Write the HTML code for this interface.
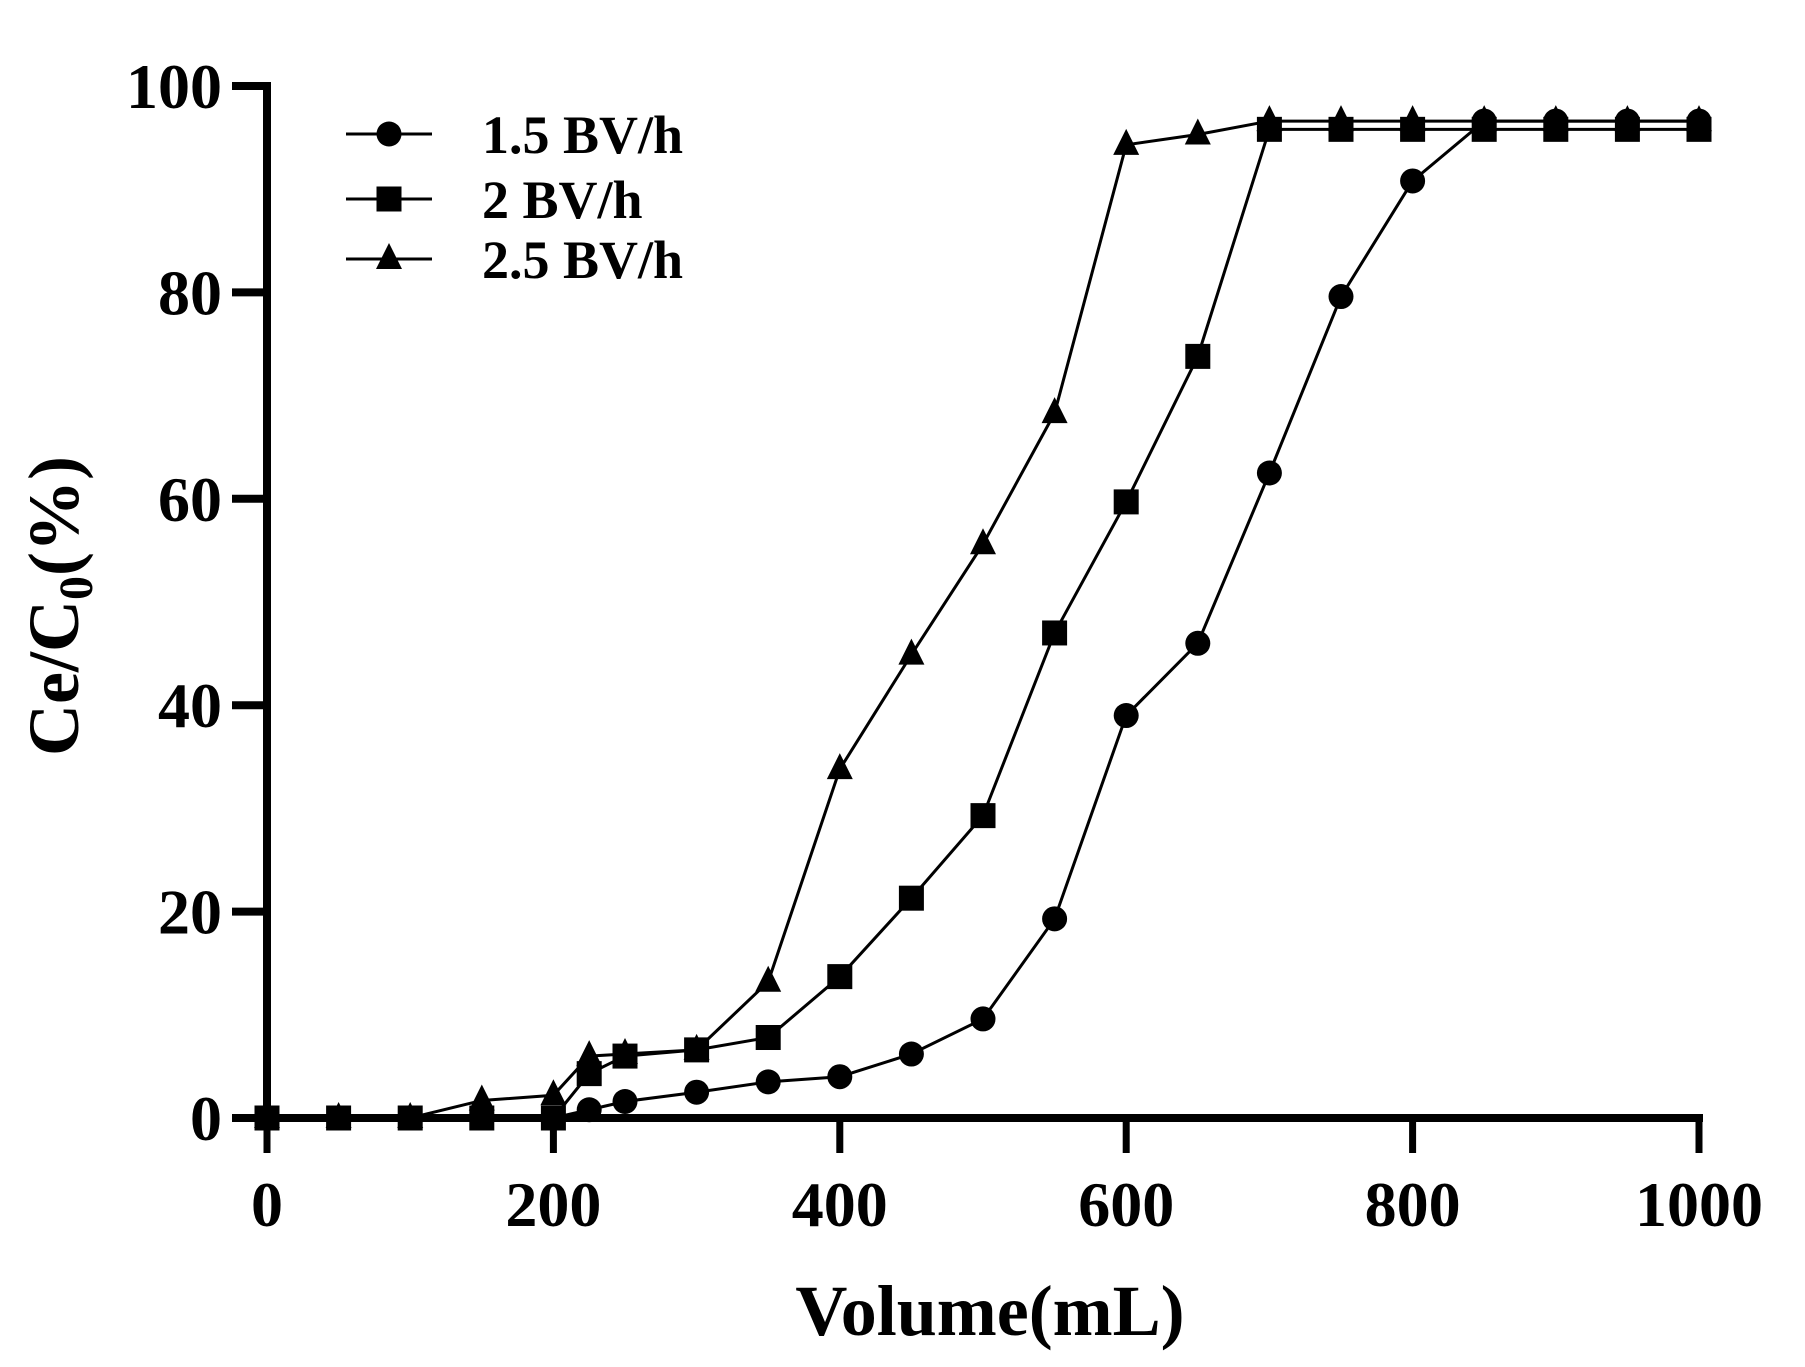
<!DOCTYPE html>
<html><head><meta charset="utf-8"><style>
body{margin:0;background:#fff}
svg{display:block}
text{font-family:"Liberation Serif",serif;font-weight:bold;fill:#000}
</style></head><body>
<svg id="chart" width="1805" height="1367" viewBox="0 0 1805 1367" xmlns="http://www.w3.org/2000/svg">
<g id="axes"></g>
<g id="series"></g>
<g id="legend"></g>
<text x="990" y="1335" font-size="72" text-anchor="middle">Volume(mL)</text>
<text transform="translate(78,606) rotate(-90)" font-size="72" text-anchor="middle">Ce/C<tspan font-size="48" dy="14">0</tspan><tspan dy="-14">(%)</tspan></text>
</svg>
<script>
const xValues = [0,50,100,150,200,225,250,300,350,400,450,500,550,600,650,700,750,800,850,900,950,1000];
const series15 = [0,0,0,0,0,0.8,1.6,2.5,3.5,4,6.2,9.6,19.3,39,46,62.5,79.6,90.8,96.6,96.6,96.6,96.6];
const series2 = [0,0,0,0,0,4.3,6,6.6,7.8,13.7,21.3,29.3,47,59.7,73.8,95.8,95.8,95.8,95.8,95.8,95.8,95.8];
const series25 = [0,0,0,1.7,2.2,6,6.2,6.6,13.2,33.8,44.9,55.6,68.3,94.3,95.3,96.6,96.6,96.6,96.6,96.6,96.6,96.6];
const xTicks = [0,200,400,600,800,1000];
const yTicks = [0,20,40,60,80,100];
const seriesNames = ["1.5 BV/h","2 BV/h","2.5 BV/h"];

const NS="http://www.w3.org/2000/svg";
const X0=267,X1=1699,Y0=1118,Y1=86;
function sx(v){return X0+(v-0)/(1000-0)*(X1-X0);}
function sy(v){return Y0-(v-0)/(100-0)*(Y0-Y1);}
function mk(tag,attrs,parent){const e=document.createElementNS(NS,tag);for(const k in attrs)e.setAttribute(k,attrs[k]);parent.appendChild(e);return e;}
const axes=document.getElementById('axes');
let yl=mk('line',{x1:X0,y1:Y0,x2:X0,y2:Y1-4,stroke:'#000','stroke-width':8},axes);


let xl=mk('line',{x1:X0-35,y1:Y0,x2:X1+4,y2:Y0,stroke:'#000','stroke-width':8},axes);


yTicks.forEach(t=>{
  const l=mk('line',{x1:X0-35,y1:sy(t),x2:X0,y2:sy(t),stroke:'#000','stroke-width':8},axes);
  
  
  const tx=mk('text',{x:X0-45,y:sy(t)+22,'font-size':64,'text-anchor':'end'},axes);
  tx.textContent=t;
  
  
});
xTicks.forEach(t=>{
  const l=mk('line',{x1:sx(t),y1:Y0,x2:sx(t),y2:Y0+35,stroke:'#000','stroke-width':7},axes);
  
  
  const tx=mk('text',{x:sx(t),y:1226,'font-size':64,'text-anchor':'middle'},axes);
  tx.textContent=t;
  
  
});
function marker(type,cx,cy,parent){
  let e;
  if(type==='circle')e=mk('circle',{cx:cx,cy:cy,r:12.5,fill:'#000'},parent);
  else if(type==='square')e=mk('rect',{x:cx-12.5,y:cy-12.5,width:25,height:25,fill:'#000'},parent);
  else e=mk('polygon',{points:`${cx},${cy-16} ${cx-13},${cy+10} ${cx+13},${cy+10}`,fill:'#000'},parent);
  return e;
}
const sg=document.getElementById('series');
const allSeries=[series15,series2,series25];
const types=['circle','square','triangle'];
const sNames=['series-1-5-bvh','series-2-bvh','series-2-5-bvh'];
allSeries.forEach((vals,i)=>{
  const g=mk('g',{},sg);
  
  
  const pts=vals.map((v,j)=>sx(xValues[j])+','+sy(v)).join(' ');
  const pl=mk('polyline',{points:pts,fill:'none',stroke:'#000','stroke-width':3},g);
  
  
  vals.forEach((v,j)=>{
    const m=marker(types[i],sx(xValues[j]),sy(v),g);
    
    
  });
});
const lg=document.getElementById('legend');
const ly=[134,199,259];
seriesNames.forEach((n,i)=>{
  const g=mk('g',{},lg);
  
  
  mk('line',{x1:346,y1:ly[i],x2:432,y2:ly[i],stroke:'#000','stroke-width':3},g);
  marker(types[i],389,ly[i],g);
  const t=mk('text',{x:482,y:ly[i]+19,'font-size':54},g);
  t.textContent=n;
});
</script>
</body></html>
